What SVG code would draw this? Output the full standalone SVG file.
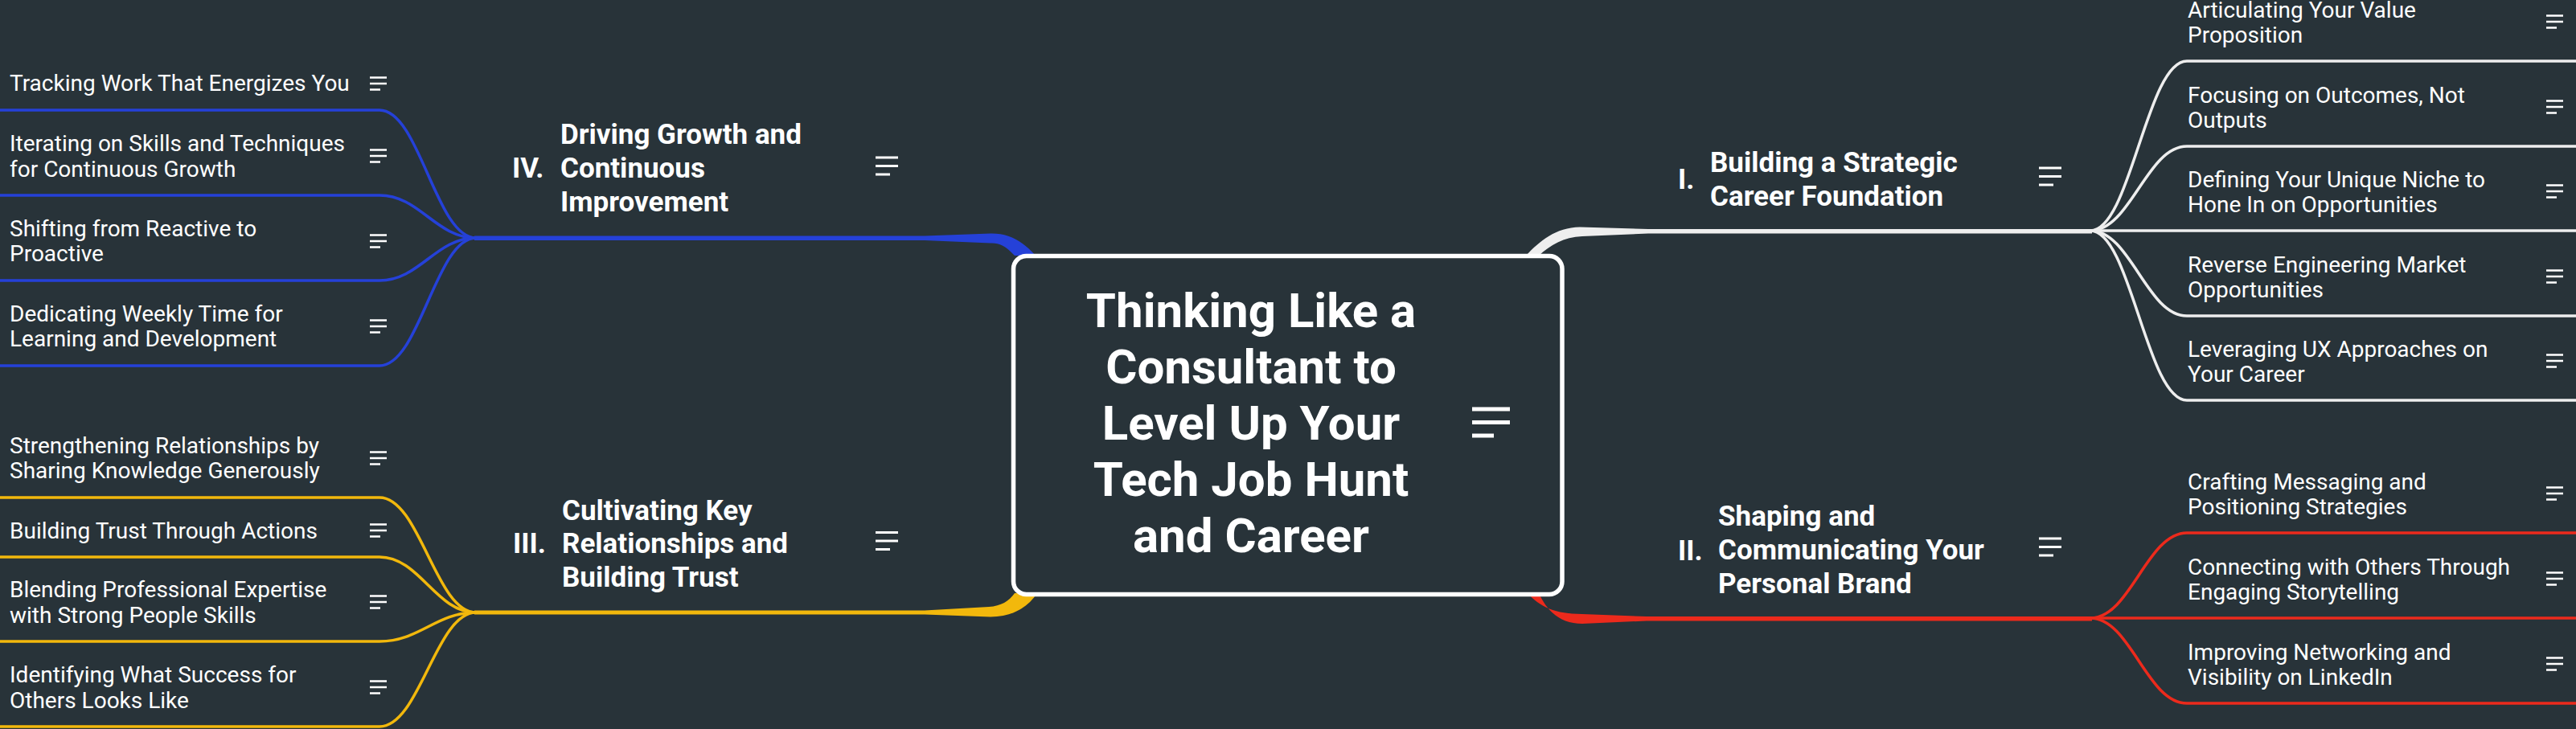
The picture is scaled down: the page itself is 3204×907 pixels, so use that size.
<svg xmlns="http://www.w3.org/2000/svg" width="3204" height="907" viewBox="0 0 3204 907">
<style>
.bg{fill:#283339}
.ln{fill:none;stroke-width:3.5;stroke-linecap:butt}
.w{stroke:#eeeeee}.b{stroke:#2541d8}.y{stroke:#f2b80c}.r{stroke:#ec2a1c}
.fw{fill:#eeeeee}.fb{fill:#2541d8}.fy{fill:#f2b80c}.fr{fill:#ec2a1c}
.t{font-family:Roboto,"Liberation Sans",sans-serif;fill:#ffffff}
.c{font-size:28px}
.m{font-size:35px;font-weight:bold}
.n{font-size:35px;font-weight:bold}
.ctr{font-size:60px;font-weight:bold;text-anchor:middle}
.ic{stroke:#ffffff;fill:none}
</style>
<defs>
<g id="icS" class="ic" stroke-width="2.6"><path d="M0,-7.5h21M0,0h21M0,7.5h13"/></g>
<g id="icM" class="ic" stroke-width="3"><path d="M0,-10.5h28M0,0h28M0,10.5h18"/></g>
</defs>
<rect class="bg" x="0" y="0" width="3204" height="907"/>
<g id="connectors">
<path class="fw" d="M1898,318 C1915,300 1935,283 1965,282.5 L2050,285 L2602,285 L2602,290.5 L2050,290.5 L1968,294 C1945,295 1928,305 1914,318 Z"/>
<path class="fr" d="M1900,738 C1915,755 1935,764 1968,764 L2048,767 L2602,767 L2602,772.5 L2048,772.5 L1968,776 C1942,776 1925,762 1914,738 Z"/>
<path class="fb" d="M590,293.5 L1150,293.5 L1232,290.5 C1255,290 1272,300 1288,318 L1262,318 C1250,305 1242,302 1232,302.5 L1150,299 L590,299 Z"/>
<path class="fy" d="M590,759.5 L1150,759.5 L1230,755 C1245,754 1255,748 1262,738 L1290,738 C1278,756 1260,767 1232,767.5 L1150,764.5 L590,764.5 Z"/>
<path class="ln w" d="M2600,287 C2650,287 2670,76 2720,76 L3204,76"/>
<path class="ln w" d="M2600,287 C2650,287 2670,182 2720,182 L3204,182"/>
<path class="ln w" d="M2600,287 L3204,287"/>
<path class="ln w" d="M2600,287 C2650,287 2670,393 2720,393 L3204,393"/>
<path class="ln w" d="M2600,287 C2650,287 2670,498 2720,498 L3204,498"/>
<path class="ln r" d="M2600,769 C2650,769 2670,663 2720,663 L3204,663"/>
<path class="ln r" d="M2600,769 L3204,769"/>
<path class="ln r" d="M2600,769 C2650,769 2670,875 2720,875 L3204,875"/>
<path class="ln b" d="M592,296 C542,296 522,137 472,137 L0,137"/>
<path class="ln b" d="M592,296 C542,296 522,243 472,243 L0,243"/>
<path class="ln b" d="M592,296 C542,296 522,349 472,349 L0,349"/>
<path class="ln b" d="M592,296 C542,296 522,455 472,455 L0,455"/>
<path class="ln y" d="M592,762 C542,762 522,619 472,619 L0,619"/>
<path class="ln y" d="M592,762 C542,762 522,693 472,693 L0,693"/>
<path class="ln y" d="M592,762 C542,762 522,798 472,798 L0,798"/>
<path class="ln y" d="M592,762 C542,762 522,904 472,904 L0,904"/>
</g>
<g id="central">
<rect x="1260.5" y="318.5" width="682.5" height="421" rx="16" fill="#283339" stroke="#ffffff" stroke-width="5.5"/>
<text class="t ctr"><tspan x="1556" y="407">Thinking Like a</tspan><tspan x="1556" y="477">Consultant to</tspan><tspan x="1556" y="547">Level Up Your</tspan><tspan x="1556" y="617">Tech Job Hunt</tspan><tspan x="1556" y="687">and Career</tspan></text>
<path class="ic" stroke-width="5" d="M1831,509h47M1831,525.5h47M1831,542h27"/>
</g>
<g id="main-1">
<text class="t n" x="2087" y="235">I.</text>
<text class="t m"><tspan x="2127" y="214">Building a Strategic</tspan><tspan x="2127" y="256">Career Foundation</tspan></text>
<use href="#icM" x="2536" y="219.5"/>
</g>
<g id="main-2">
<text class="t n" x="2087" y="697">II.</text>
<text class="t m"><tspan x="2137" y="654">Shaping and</tspan><tspan x="2137" y="696">Communicating Your</tspan><tspan x="2137" y="738">Personal Brand</tspan></text>
<use href="#icM" x="2536" y="680.5"/>
</g>
<g id="main-3">
<text class="t n" x="638" y="688">III.</text>
<text class="t m"><tspan x="699" y="647">Cultivating Key</tspan><tspan x="699" y="688">Relationships and</tspan><tspan x="699" y="730">Building Trust</tspan></text>
<use href="#icM" x="1089" y="673"/>
</g>
<g id="main-4">
<text class="t n" x="637" y="221">IV.</text>
<text class="t m"><tspan x="697" y="179">Driving Growth and</tspan><tspan x="697" y="221">Continuous</tspan><tspan x="697" y="263">Improvement</tspan></text>
<use href="#icM" x="1089" y="206.5"/>
</g>
<g id="c1-1"><text class="t c"><tspan x="2721" y="22">Articulating Your Value</tspan><tspan x="2721" y="53">Proposition</tspan></text><use href="#icS" x="3167" y="27"/></g>
<g id="c1-2"><text class="t c"><tspan x="2721" y="128">Focusing on Outcomes, Not</tspan><tspan x="2721" y="159">Outputs</tspan></text><use href="#icS" x="3167" y="133"/></g>
<g id="c1-3"><text class="t c"><tspan x="2721" y="233">Defining Your Unique Niche to</tspan><tspan x="2721" y="264">Hone In on Opportunities</tspan></text><use href="#icS" x="3167" y="238"/></g>
<g id="c1-4"><text class="t c"><tspan x="2721" y="339">Reverse Engineering Market</tspan><tspan x="2721" y="370">Opportunities</tspan></text><use href="#icS" x="3167" y="344"/></g>
<g id="c1-5"><text class="t c"><tspan x="2721" y="444">Leveraging UX Approaches on</tspan><tspan x="2721" y="475">Your Career</tspan></text><use href="#icS" x="3167" y="449"/></g>
<g id="c2-1"><text class="t c"><tspan x="2721" y="609">Crafting Messaging and</tspan><tspan x="2721" y="640">Positioning Strategies</tspan></text><use href="#icS" x="3167" y="614"/></g>
<g id="c2-2"><text class="t c"><tspan x="2721" y="715">Connecting with Others Through</tspan><tspan x="2721" y="746">Engaging Storytelling</tspan></text><use href="#icS" x="3167" y="720"/></g>
<g id="c2-3"><text class="t c"><tspan x="2721" y="821">Improving Networking and</tspan><tspan x="2721" y="852">Visibility on LinkedIn</tspan></text><use href="#icS" x="3167" y="826"/></g>
<g id="c4-1"><text class="t c"><tspan x="12" y="113">Tracking Work That Energizes You</tspan></text><use href="#icS" x="460" y="104"/></g>
<g id="c4-2"><text class="t c"><tspan x="12" y="188">Iterating on Skills and Techniques</tspan><tspan x="12" y="220">for Continuous Growth</tspan></text><use href="#icS" x="460" y="194"/></g>
<g id="c4-3"><text class="t c"><tspan x="12" y="294">Shifting from Reactive to</tspan><tspan x="12" y="325">Proactive</tspan></text><use href="#icS" x="460" y="300"/></g>
<g id="c4-4"><text class="t c"><tspan x="12" y="400">Dedicating Weekly Time for</tspan><tspan x="12" y="431">Learning and Development</tspan></text><use href="#icS" x="460" y="406"/></g>
<g id="c3-1"><text class="t c"><tspan x="12" y="564">Strengthening Relationships by</tspan><tspan x="12" y="595">Sharing Knowledge Generously</tspan></text><use href="#icS" x="460" y="570"/></g>
<g id="c3-2"><text class="t c"><tspan x="12" y="670">Building Trust Through Actions</tspan></text><use href="#icS" x="460" y="660"/></g>
<g id="c3-3"><text class="t c"><tspan x="12" y="743">Blending Professional Expertise</tspan><tspan x="12" y="775">with Strong People Skills</tspan></text><use href="#icS" x="460" y="749"/></g>
<g id="c3-4"><text class="t c"><tspan x="12" y="849">Identifying What Success for</tspan><tspan x="12" y="881">Others Looks Like</tspan></text><use href="#icS" x="460" y="855"/></g>
</svg>
